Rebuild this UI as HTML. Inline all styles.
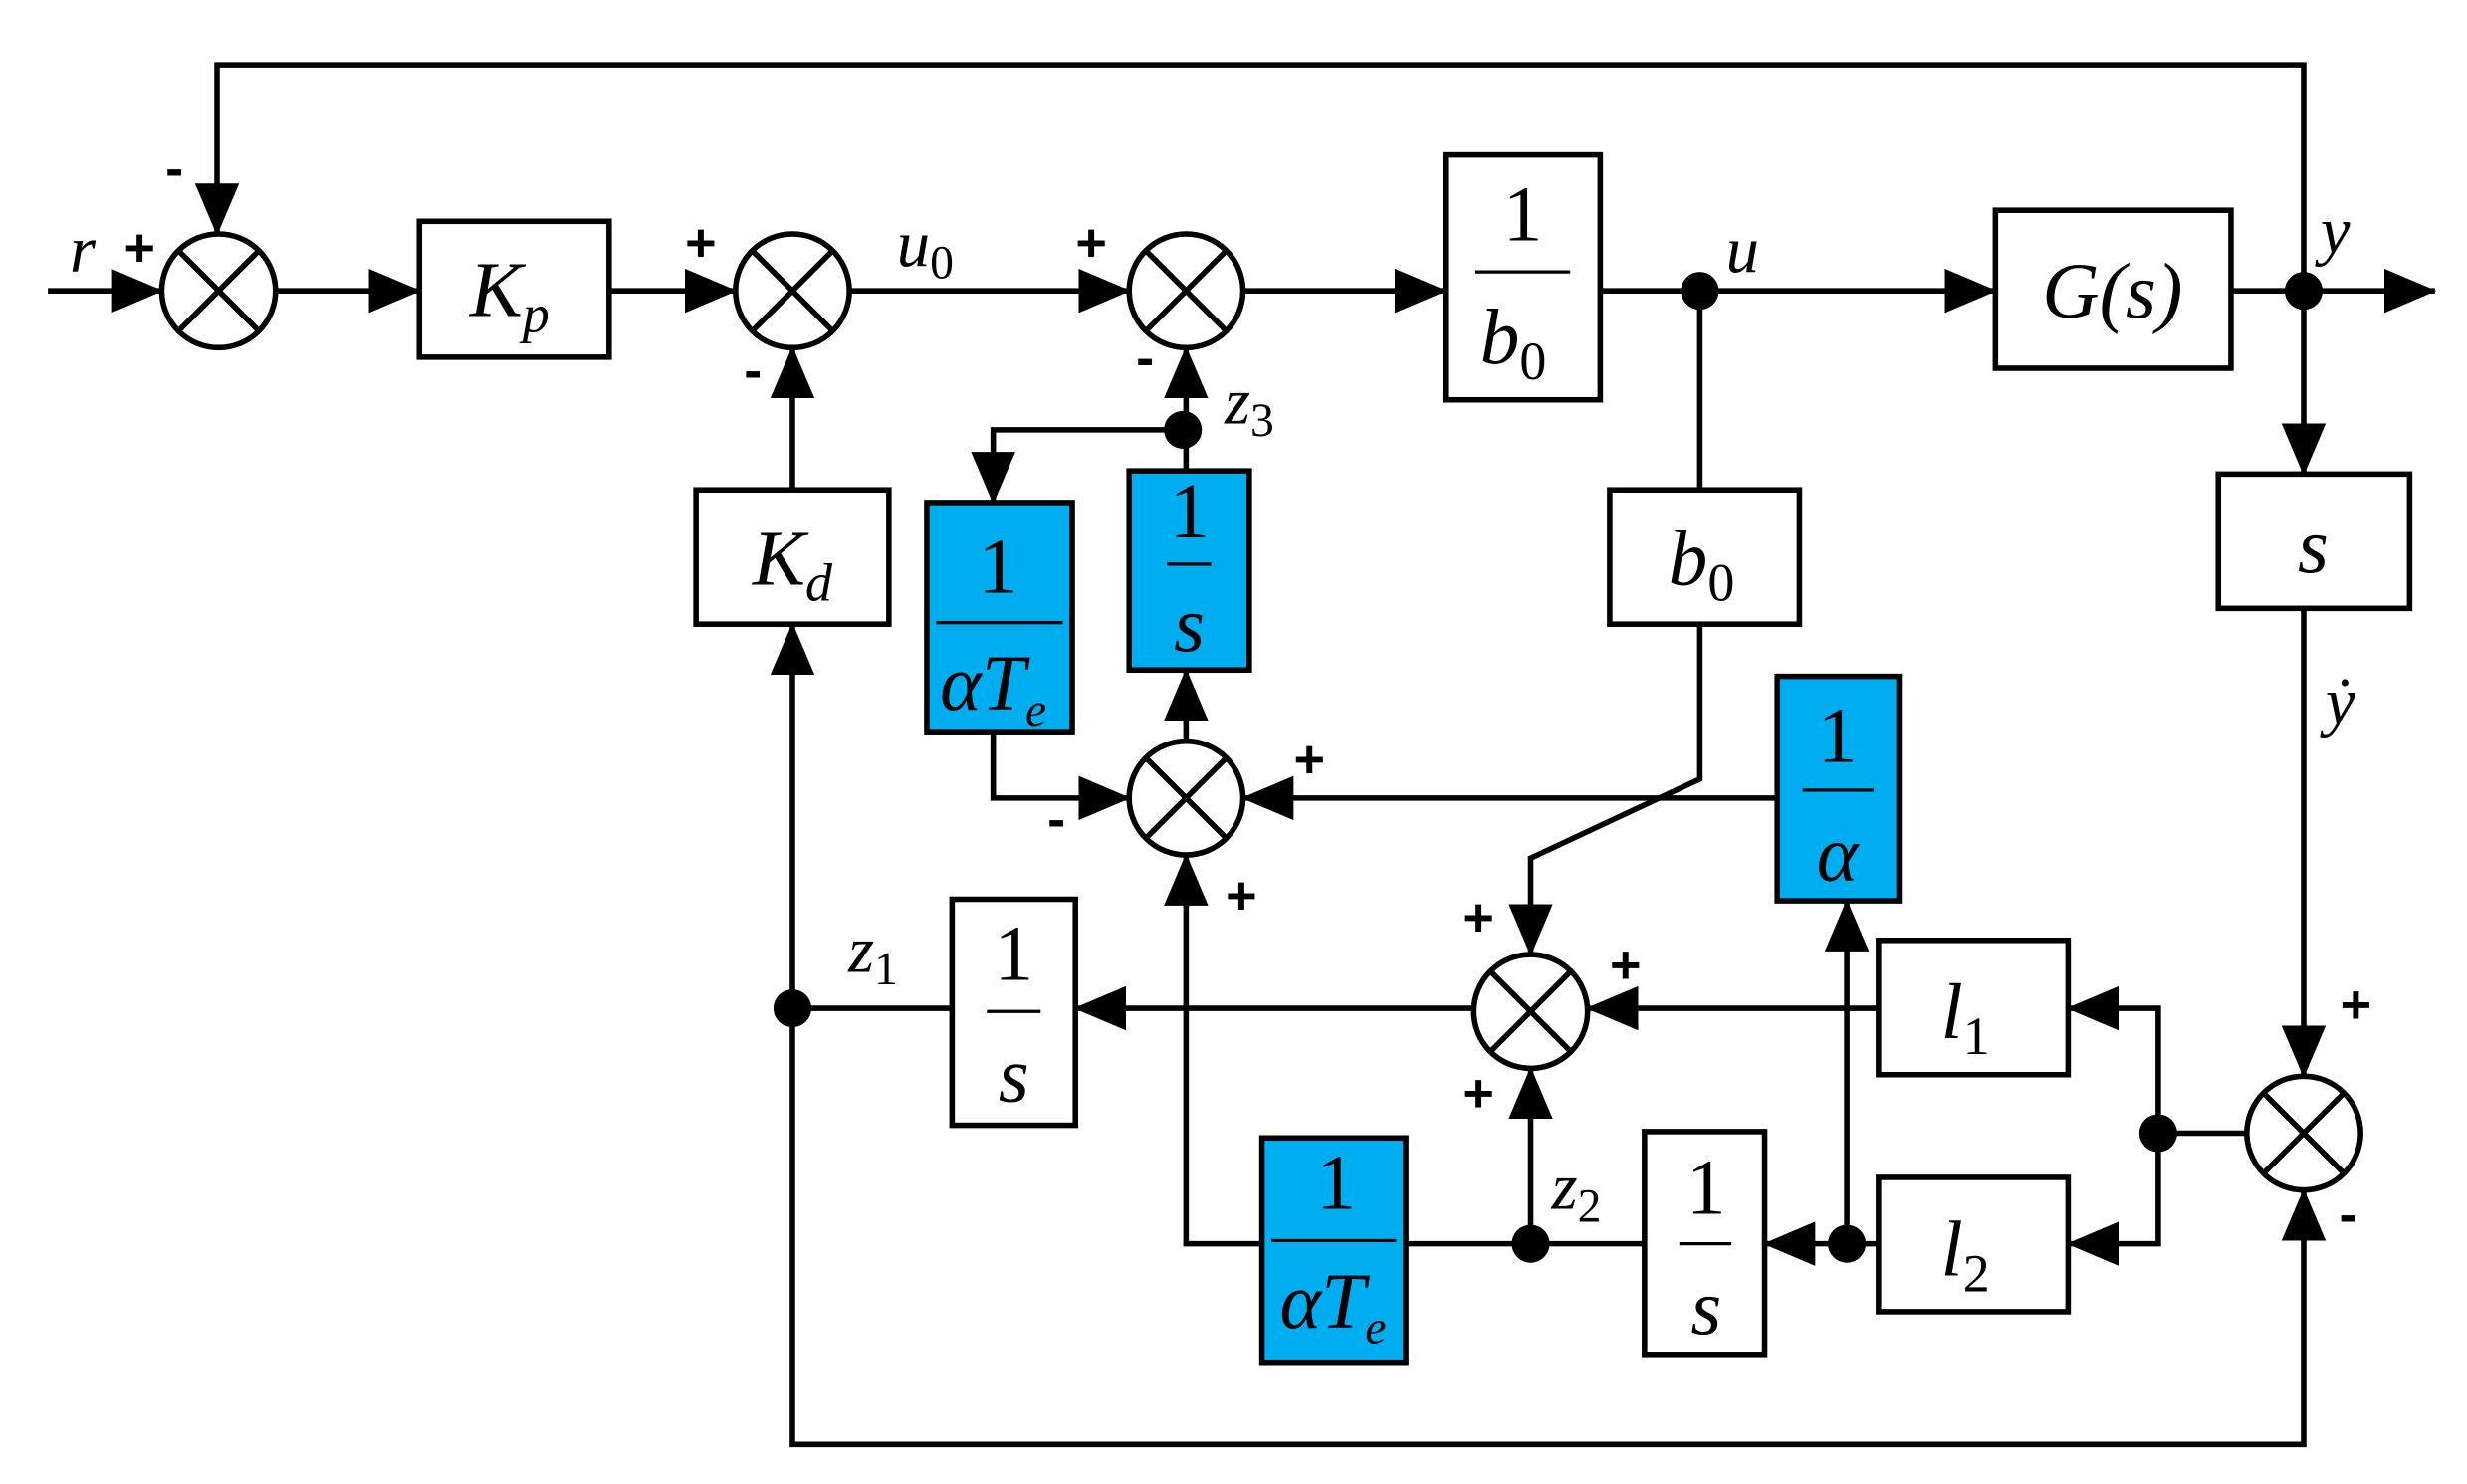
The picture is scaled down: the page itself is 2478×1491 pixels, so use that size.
<!DOCTYPE html>
<html><head><meta charset="utf-8"><style>html,body{margin:0;padding:0;background:#fff}svg{display:block}</style></head>
<body>
<svg width="2478" height="1491" viewBox="0 0 1560 939" xmlns="http://www.w3.org/2000/svg">
<defs>
<marker id="a" markerUnits="userSpaceOnUse" markerWidth="34" markerHeight="28" refX="32" refY="14" orient="auto">
<polygon points="0,0 33,14 0,28" fill="#000"/></marker>
</defs>
<g stroke="#000" stroke-width="3.5" fill="none">
<polyline points="1457,184 1457,41 137,41 137,148" marker-end="url(#a)"/>
<line x1="30" y1="184" x2="102" y2="184" marker-end="url(#a)"/>
<line x1="174" y1="184" x2="265" y2="184" marker-end="url(#a)"/>
<line x1="385" y1="184" x2="465" y2="184" marker-end="url(#a)"/>
<line x1="537" y1="184" x2="714" y2="184" marker-end="url(#a)"/>
<line x1="786" y1="184" x2="914" y2="184" marker-end="url(#a)"/>
<line x1="1012" y1="184" x2="1262" y2="184" marker-end="url(#a)"/>
<line x1="1411" y1="184" x2="1540" y2="184" marker-end="url(#a)"/>
<line x1="1457" y1="184" x2="1457" y2="300" marker-end="url(#a)"/>
<line x1="1457" y1="385" x2="1457" y2="681" marker-end="url(#a)"/>
<polyline points="501,638 501,914 1457,914 1457,753" marker-end="url(#a)"/>
<line x1="501" y1="638" x2="501" y2="395" marker-end="url(#a)"/>
<line x1="501" y1="310" x2="501" y2="220" marker-end="url(#a)"/>
<line x1="750" y1="298" x2="750" y2="220" marker-end="url(#a)"/>
<polyline points="750,272 628,272 628,318" marker-end="url(#a)"/>
<polyline points="628,463 628,505 714,505" marker-end="url(#a)"/>
<line x1="750" y1="469" x2="750" y2="424" marker-end="url(#a)"/>
<line x1="1124" y1="505" x2="786" y2="505" marker-end="url(#a)"/>
<line x1="1075" y1="184" x2="1075" y2="310"/>
<polyline points="1075,395 1075,493 968,543 968,604" marker-end="url(#a)"/>
<line x1="1188" y1="638" x2="1004" y2="638" marker-end="url(#a)"/>
<line x1="932" y1="638" x2="680" y2="638" marker-end="url(#a)"/>
<line x1="602" y1="638" x2="501" y2="638"/>
<polyline points="798,787 750,787 750,541" marker-end="url(#a)"/>
<line x1="889" y1="787" x2="1040" y2="787"/>
<line x1="968" y1="787" x2="968" y2="676" marker-end="url(#a)"/>
<line x1="1188" y1="787" x2="1116" y2="787" marker-end="url(#a)"/>
<line x1="1168" y1="787" x2="1168" y2="570" marker-end="url(#a)"/>
<line x1="1421" y1="717" x2="1365" y2="717"/>
<polyline points="1365,717 1365,638 1308,638" marker-end="url(#a)"/>
<polyline points="1365,717 1365,787 1308,787" marker-end="url(#a)"/>
<g>
<circle cx="138" cy="184" r="36"/><path d="M112.5,158.5L163.5,209.5M163.5,158.5L112.5,209.5"/>
<circle cx="501" cy="184" r="36"/><path d="M475.5,158.5L526.5,209.5M526.5,158.5L475.5,209.5"/>
<circle cx="750" cy="184" r="36"/><path d="M724.5,158.5L775.5,209.5M775.5,158.5L724.5,209.5"/>
<circle cx="750" cy="505" r="36"/><path d="M724.5,479.5L775.5,530.5M775.5,479.5L724.5,530.5"/>
<circle cx="968" cy="640" r="36"/><path d="M942.5,614.5L993.5,665.5M993.5,614.5L942.5,665.5"/>
<circle cx="1457" cy="717" r="36"/><path d="M1431.5,691.5L1482.5,742.5M1482.5,691.5L1431.5,742.5"/>
</g>
<rect x="265" y="140" width="120" height="86" fill="#fff"/>
<rect x="914" y="98" width="98" height="155" fill="#fff"/>
<rect x="1262" y="133" width="149" height="100" fill="#fff"/>
<rect x="1403" y="300" width="121" height="85" fill="#fff"/>
<rect x="440" y="310" width="122" height="85" fill="#fff"/>
<rect x="714" y="298" width="76" height="126" fill="#00AEEF"/>
<rect x="586" y="318" width="92" height="145" fill="#00AEEF"/>
<rect x="1018" y="310" width="120" height="85" fill="#fff"/>
<rect x="1124" y="428" width="77" height="142" fill="#00AEEF"/>
<rect x="1188" y="595" width="120" height="85" fill="#fff"/>
<rect x="602" y="569" width="78" height="143" fill="#fff"/>
<rect x="798" y="720" width="91" height="142" fill="#00AEEF"/>
<rect x="1040" y="716" width="76" height="141" fill="#fff"/>
<rect x="1188" y="745" width="120" height="85" fill="#fff"/>
<g stroke-width="2">
<line x1="933" y1="172" x2="993" y2="172"/>
<line x1="738" y1="357" x2="766" y2="357"/>
<line x1="592" y1="394" x2="672" y2="394"/>
<line x1="1140" y1="500" x2="1185" y2="500"/>
<line x1="624" y1="640" x2="658" y2="640"/>
<line x1="804" y1="785" x2="883" y2="785"/>
<line x1="1062" y1="787" x2="1095" y2="787"/>
</g>
</g>
<g fill="#000">
<circle cx="1075" cy="184" r="12"/><circle cx="1457" cy="184" r="12"/>
<circle cx="748" cy="272" r="12"/><circle cx="501" cy="638" r="12"/>
<circle cx="968" cy="787" r="12"/><circle cx="1168" cy="787" r="12"/>
<circle cx="1365" cy="717" r="12"/>
</g>
<g font-family="Liberation Serif, serif" font-size="50" fill="#000" text-anchor="middle">
<text x="322" y="200" font-style="italic">K<tspan font-size="34" dy="10">p</tspan></text>
<text x="963" y="152">1</text>
<text x="957" y="230" font-style="italic">b<tspan font-size="34" dy="10" font-style="normal">0</tspan></text>
<text x="1336" y="201" font-style="italic">G(s)</text>
<text x="1463" y="362" font-style="italic">s</text>
<text x="501" y="370" font-style="italic">K<tspan font-size="34" dy="10">d</tspan></text>
<text x="752" y="340">1</text>
<text x="752" y="412" font-style="italic">s</text>
<text x="631" y="375">1</text>
<text x="628" y="449" font-style="italic">αT<tspan font-size="30" dy="10">e</tspan></text>
<text x="1076" y="370" font-style="italic">b<tspan font-size="34" dy="10" font-style="normal">0</tspan></text>
<text x="1162" y="482">1</text>
<text x="1162" y="557" font-style="italic">α</text>
<text x="1243" y="657" font-style="italic">l<tspan font-size="34" dy="10" font-style="normal">1</tspan></text>
<text x="641" y="620">1</text>
<text x="641" y="697" font-style="italic">s</text>
<text x="845" y="765">1</text>
<text x="843" y="840" font-style="italic">αT<tspan font-size="30" dy="10">e</tspan></text>
<text x="1079" y="768">1</text>
<text x="1079" y="844" font-style="italic">s</text>
<text x="1243" y="807" font-style="italic">l<tspan font-size="34" dy="10" font-style="normal">2</tspan></text>
<text x="52" y="172" font-style="italic" font-size="42">r</text>
<text x="585" y="168" font-style="italic" font-size="42">u<tspan font-size="30" dy="8" font-style="normal">0</tspan></text>
<text x="1102" y="172" font-style="italic" font-size="42">u</text>
<text x="1477" y="160" font-style="italic" font-size="42">y</text>
<text x="1480" y="458" font-style="italic" font-size="42">ẏ</text>
<text x="790" y="268" font-style="italic" font-size="42">z<tspan font-size="30" dy="8" font-style="normal">3</tspan></text>
<text x="552" y="615" font-style="italic" font-size="42">z<tspan font-size="30" dy="8" font-style="normal">1</tspan></text>
<text x="997" y="765" font-style="italic" font-size="42">z<tspan font-size="30" dy="8" font-style="normal">2</tspan></text>
<g font-family="Liberation Sans, sans-serif" font-size="34" font-weight="bold">
<text x="88" y="168">+</text><text x="110" y="118">-</text>
<text x="443" y="165">+</text><text x="476" y="246">-</text>
<text x="690" y="165">+</text><text x="724" y="238">-</text>
<text x="828" y="492">+</text><text x="668" y="530">-</text>
<text x="785" y="578">+</text>
<text x="935" y="592">+</text><text x="1028" y="622">+</text>
<text x="935" y="703">+</text>
<text x="1490" y="647">+</text><text x="1485" y="780">-</text>
</g>
</g>
</svg>
</body></html>
